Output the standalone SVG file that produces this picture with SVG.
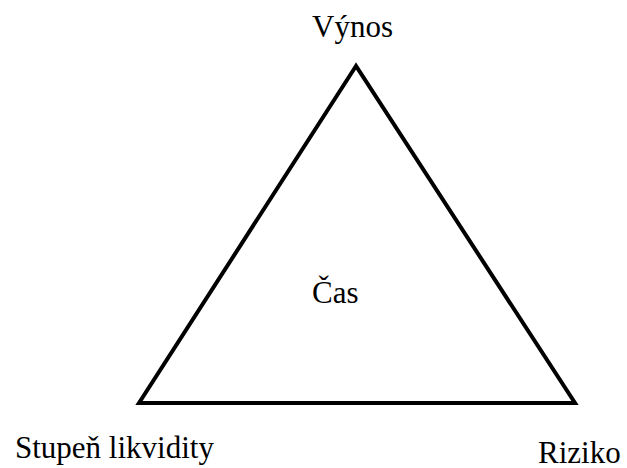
<svg xmlns="http://www.w3.org/2000/svg" width="627" height="468" viewBox="0 0 627 468">
<style>
text{font-family:"Liberation Serif",Tinos,"Times New Roman",Times,serif !important;font-size:31px;fill:#000}
.edge{fill:none;stroke:#000;stroke-width:4;stroke-linejoin:miter}
</style>
<rect width="627" height="468" fill="#fff"/>
<g id="connectors">
<polygon class="edge" points="356,66 139,403 575,403"/>
</g>
<g id="vynos"><text x="312" y="37" font-family="Liberation Serif">Výnos</text></g>
<g id="cas"><text x="312" y="303" font-family="Liberation Serif">Čas</text></g>
<g id="likvidita"><text x="15" y="458" font-family="Liberation Serif">Stupeň likvidity</text></g>
<g id="riziko"><text x="538" y="463" font-family="Liberation Serif">Riziko</text></g>
</svg>
